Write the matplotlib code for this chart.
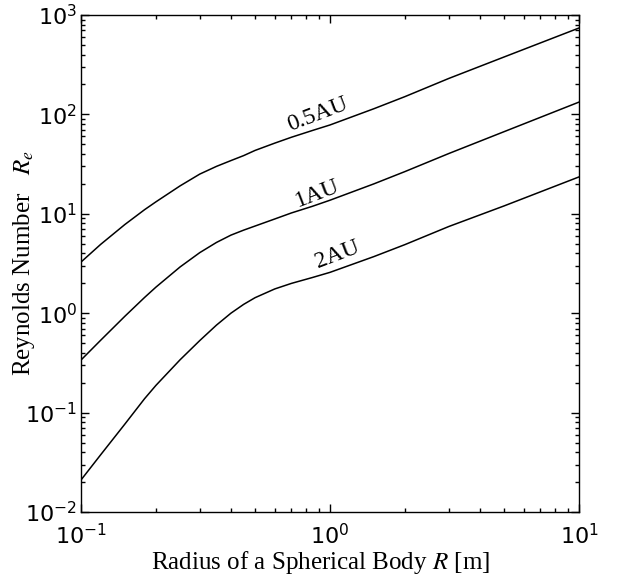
import numpy as np
import matplotlib
matplotlib.use('Agg')
import matplotlib.pyplot as plt
from matplotlib.ticker import LogLocator, NullFormatter

plt.rcParams['mathtext.fontset'] = 'custom'
plt.rcParams['mathtext.rm'] = 'Liberation Sans'
plt.rcParams['mathtext.it'] = 'Liberation Sans:italic'

# ── values ────────────────────────────────────────────────────
radius  = [0.1, 0.12, 0.15, 0.18, 0.2, 0.25, 0.3, 0.35, 0.4, 0.45,
           0.5, 0.6, 0.7, 0.85, 1, 1.5, 2, 3, 5, 10]
re_05au = [3.27, 4.93, 7.80, 11.0, 13.2, 19.1, 25.1, 30.0, 34.3, 38.5,
           43.4, 51.4, 58.9, 68.9, 78.3, 114, 151, 230, 378, 740]
re_1au  = [0.338, 0.535, 0.931, 1.44, 1.83, 2.92, 4.07, 5.15, 6.10, 6.85,
           7.53, 8.87, 10.2, 11.9, 13.7, 20.0, 26.6, 40.4, 67.0, 133]
re_2au  = [0.0210, 0.0377, 0.0766, 0.138, 0.188, 0.340, 0.531, 0.759, 1.00, 1.227,
           1.432, 1.754, 1.995, 2.286, 2.576, 3.71, 4.90, 7.45, 12.0, 23.5]

curve_labels = ['0.5AU', '1AU', '2AU']
label_x = [0.895, 0.887, 1.067]
label_y = [99, 15.8, 3.85]

SERIF = 'Liberation Serif'

fig = plt.figure(figsize=(6.19, 5.88), dpi=100)
fig.patch.set_facecolor('white')
ax = fig.add_axes([81/619, 1 - 512/588, 498/619, 497/588])

for ys in (re_05au, re_1au, re_2au):
    ax.plot(radius, ys, color='black', lw=1.1)

for txt, lx, ly in zip(curve_labels, label_x, label_y):
    ax.text(lx, ly, txt, fontsize=17, family=SERIF, rotation=21,
            rotation_mode='anchor', ha='center', va='center')

ax.set_xscale('log')
ax.set_yscale('log')
ax.set_xlim(0.1, 10)
ax.set_ylim(1e-2, 1e3)

ax.xaxis.set_major_locator(LogLocator(base=10, numticks=10))
ax.yaxis.set_major_locator(LogLocator(base=10, numticks=10))
ax.xaxis.set_minor_locator(LogLocator(base=10, subs=np.arange(2, 10), numticks=20))
ax.yaxis.set_minor_locator(LogLocator(base=10, subs=np.arange(2, 10), numticks=20))
ax.xaxis.set_minor_formatter(NullFormatter())
ax.yaxis.set_minor_formatter(NullFormatter())

ax.tick_params(which='both', direction='in', top=True, right=True, width=1.0)
ax.tick_params(which='major', length=5.5, labelsize=16)
ax.tick_params(axis='x', which='major', pad=8)
ax.tick_params(axis='y', which='major', pad=3)
ax.tick_params(which='minor', length=3)
for sp in ax.spines.values():
    sp.set_linewidth(1.0)

ax.set_xlabel('Radius of a Spherical Body $R$ [m]', fontsize=18, family=SERIF,
              math_fontfamily='stix')
ax.set_ylabel('Reynolds Number   $R_e$', fontsize=18, family=SERIF,
              math_fontfamily='stix')
ax.xaxis.set_label_coords(0.48, -0.075)
ax.yaxis.set_label_coords(-0.088, 0.5)

plt.savefig('out.png', dpi=100, facecolor='white')
